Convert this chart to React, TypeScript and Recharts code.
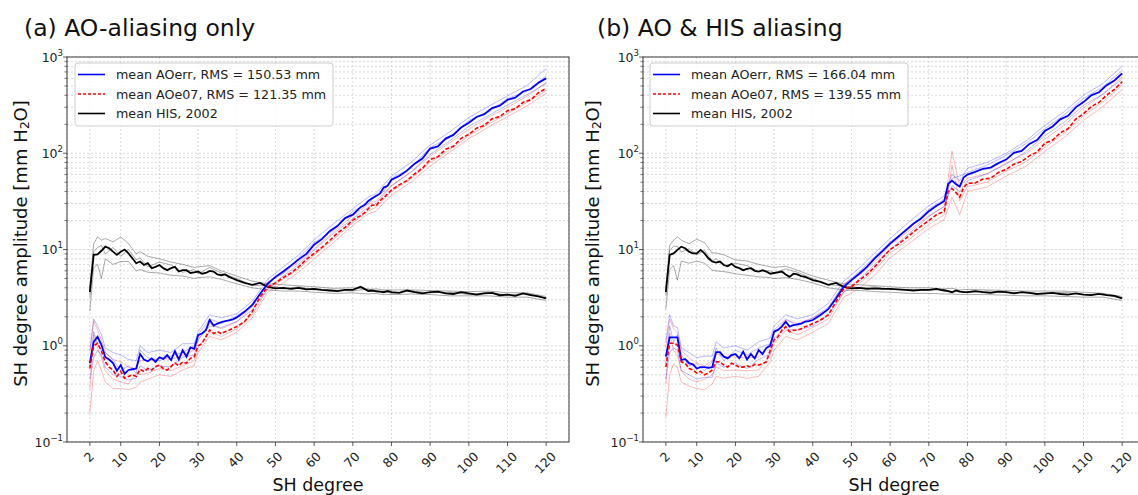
import React from "react";
import { LineChart, Line, XAxis, YAxis, CartesianGrid } from "recharts";

const FONT = "'DejaVu Sans', Verdana, sans-serif";

// SH degrees used for the mean curves
const DEG = [
  2, 3, 4, 5, 6, 7, 8, 9, 10, 11,
  12, 13, 14, 15, 16, 17, 18, 19, 20, 21,
  22, 23, 24, 25, 26, 27, 28, 29, 30, 31,
  32, 33, 34, 35, 36, 37, 38, 39, 40,
  42, 44, 46, 48, 50, 52, 54, 56, 58, 60,
  62, 64, 66, 68, 70, 72,
  73, 74, 75, 76, 77, 78, 79, 80,
  82, 84, 86, 88, 90, 92, 94, 96, 98, 100,
  102, 104, 106, 108, 110, 112, 114, 116, 118, 120,
];

// (a) AO-aliasing only
const AOERR_A = [
  0.66, 1.1, 1.24, 1.02, 0.76, 0.72, 0.66, 0.55, 0.63, 0.51,
  0.56, 0.57, 0.58, 0.82, 0.72, 0.69, 0.74, 0.68, 0.76, 0.73,
  0.8, 0.71, 0.88, 0.72, 0.9, 0.77, 0.96, 0.93, 1.29, 1.34,
  1.45, 1.85, 1.62, 1.7, 1.76, 1.8, 1.84, 1.88, 1.97,
  2.25, 2.65, 3.45, 4.4, 5.2, 5.9, 6.8, 7.9, 9.0, 11.2,
  12.8, 15.5, 17.5, 21.2, 23.0, 27.5,
  29.0, 32.0, 34.0, 36.0, 38.0, 44.0, 46.0, 53.0,
  58.0, 66.0, 78.0, 88.0, 112, 118, 142, 155, 185, 208,
  238, 255, 295, 312, 360, 378, 438, 465, 540, 600,
];
const AOE07_A = [
  0.58, 1.0, 1.06, 0.88, 0.68, 0.6, 0.56, 0.48, 0.54, 0.46,
  0.48, 0.5, 0.48, 0.57, 0.54, 0.58, 0.56, 0.61, 0.63, 0.58,
  0.56, 0.61, 0.66, 0.62, 0.68, 0.66, 0.74, 0.77, 1.0, 1.05,
  1.24, 1.46, 1.34, 1.4, 1.34, 1.4, 1.45, 1.52, 1.58,
  1.78, 2.26, 3.2, 4.1, 4.5, 5.1, 5.7, 6.6, 7.9, 9.1,
  10.5, 12.4, 14.8, 17.0, 20.2, 22.5,
  24.0, 26.5, 29.0, 28.5, 32.0, 34.5, 38.0, 41.5,
  47.0, 52.0, 61.0, 70.0, 86.0, 92.0, 110, 118, 143, 157,
  182, 195, 228, 240, 276, 290, 338, 360, 425, 473,
];
const HIS_A = [
  3.6, 8.8, 8.9, 9.7, 10.7, 10.3, 9.5, 8.8, 9.5, 10.0,
  9.1, 8.1, 7.2, 7.5, 6.9, 7.2, 6.4, 6.6, 6.9, 6.4,
  6.1, 6.4, 6.6, 5.9, 6.1, 6.1, 5.7, 5.8, 5.9, 5.6,
  5.7, 6.0, 5.9, 5.5, 5.4, 5.5, 5.2, 5.0, 4.8,
  4.5, 4.3, 4.5, 4.1, 3.95, 4.0, 3.9, 4.0, 3.85, 3.9,
  3.8, 3.75, 3.7, 3.8, 3.8, 4.1,
  3.9, 3.7, 3.75, 3.7, 3.65, 3.6, 3.7, 3.6,
  3.55, 3.75, 3.6, 3.5, 3.6, 3.65, 3.5, 3.45, 3.6, 3.5,
  3.4, 3.5, 3.55, 3.35, 3.4, 3.3, 3.5, 3.35, 3.25, 3.1,
];

// (b) AO & HIS aliasing
const AOERR_B = [
  0.77, 1.22, 1.22, 1.22, 0.71, 0.73, 0.66, 0.64, 0.58, 0.6,
  0.6, 0.59, 0.6, 0.86, 0.86, 0.77, 0.74, 0.8, 0.82, 0.74,
  0.87, 0.72, 0.82, 0.74, 0.9, 0.82, 0.95, 1.0, 1.4, 1.46,
  1.58, 1.78, 1.58, 1.64, 1.67, 1.7, 1.78, 1.8, 1.85,
  2.09, 2.4, 3.1, 4.1, 4.8, 5.6, 6.6, 8.1, 9.6, 11.5,
  13.5, 15.8, 18.5, 21.0, 25.0, 28.5,
  30.0, 32.0, 48.0, 52.0, 48.0, 45.0, 56.0, 60.0,
  64.0, 69.0, 71.0, 79.0, 86.0, 101, 106, 125, 137, 170,
  190, 225, 245, 300, 340, 400, 430, 510, 570, 677,
];
const AOE07_B = [
  0.6, 1.06, 1.06, 1.02, 0.68, 0.66, 0.58, 0.56, 0.52, 0.54,
  0.5, 0.52, 0.56, 0.68, 0.68, 0.63, 0.6, 0.66, 0.63, 0.6,
  0.6, 0.62, 0.6, 0.64, 0.63, 0.65, 0.68, 0.9, 1.15, 1.24,
  1.45, 1.58, 1.4, 1.45, 1.45, 1.5, 1.58, 1.62, 1.7,
  1.85, 2.09, 2.87, 3.9, 4.1, 4.8, 5.5, 6.6, 8.2, 10.0,
  11.3, 13.0, 15.2, 17.5, 20.0, 23.0,
  24.0, 25.0, 40.0, 43.0, 39.0, 35.0, 44.0, 48.7,
  49.0, 54.0, 55.0, 63.0, 68.0, 77.0, 82.0, 94.0, 103, 127,
  137, 163, 180, 226, 258, 305, 338, 402, 460, 553,
];
const HIS_B = [
  3.6, 8.8, 9.1, 9.9, 10.7, 10.3, 9.5, 9.1, 9.1, 9.9,
  9.1, 8.1, 7.5, 7.3, 7.5, 6.9, 6.7, 7.1, 6.6, 6.4,
  6.1, 6.3, 6.4, 6.0, 5.9, 6.1, 5.9, 5.6, 5.7, 5.8,
  5.9, 5.5, 5.2, 5.6, 5.5, 5.3, 5.2, 5.0, 4.8,
  4.6, 4.3, 4.5, 4.1, 3.95, 4.0, 3.9, 3.95, 3.9, 3.9,
  3.85, 3.8, 3.75, 3.8, 3.8, 3.9,
  3.8, 3.75, 3.7, 3.6, 3.75, 3.65, 3.6, 3.6,
  3.7, 3.6, 3.55, 3.65, 3.6, 3.5, 3.6, 3.55, 3.45, 3.5,
  3.55, 3.45, 3.4, 3.5, 3.4, 3.35, 3.45, 3.35, 3.3, 3.1,
];

// individual ensemble members (thin lines), coarser sampling
const MEMBER_DEG = [
  2, 3, 4, 5, 6, 8, 10, 12, 14, 15, 17, 20, 23, 26, 29, 30, 33, 36, 40,
  44, 48, 52, 56, 60, 65, 70, 74, 76, 78, 80, 85, 90, 95, 100, 105, 110, 115, 120,
];

const BLUE_MEMBERS_A = [
  [0.9, 1.9, 1.6, 1.3, 0.95, 0.85, 0.8, 0.72, 0.7, 1.0, 0.85, 0.9, 0.85, 1.05, 1.05, 1.4, 2.1, 1.95, 2.15, 2.9, 4.9, 6.6, 8.8, 12.6, 18.5, 26.5, 35, 38, 47, 58, 80, 122, 166, 235, 305, 395, 505, 760],
  [0.45, 0.75, 0.9, 0.8, 0.6, 0.5, 0.48, 0.44, 0.46, 0.62, 0.55, 0.62, 0.6, 0.76, 0.8, 1.15, 1.6, 1.55, 1.78, 2.35, 3.9, 5.3, 7.0, 9.9, 14.6, 21, 27.5, 30, 37, 46, 64, 97, 134, 190, 245, 318, 405, 530],
  [0.6, 1.4, 1.05, 0.9, 0.85, 0.72, 0.55, 0.62, 0.52, 0.9, 0.75, 0.7, 0.78, 0.85, 1.0, 1.3, 1.9, 1.7, 2.05, 2.6, 4.6, 5.6, 8.2, 11.8, 15.8, 25, 30, 36, 40, 55, 70, 115, 145, 220, 265, 370, 440, 640],
];
const RED_MEMBERS_A = [
  [0.85, 1.8, 1.45, 1.15, 0.85, 0.72, 0.68, 0.6, 0.58, 0.7, 0.7, 0.74, 0.72, 0.8, 0.9, 1.15, 1.7, 1.5, 1.78, 2.55, 4.6, 5.7, 7.4, 10.2, 15.2, 22.5, 29.5, 31.5, 38.5, 46, 63, 93, 128, 178, 235, 300, 390, 540],
  [0.2, 0.55, 0.7, 0.55, 0.42, 0.36, 0.36, 0.35, 0.37, 0.42, 0.45, 0.5, 0.48, 0.56, 0.62, 0.85, 1.25, 1.15, 1.38, 1.95, 3.6, 4.5, 5.8, 8.0, 11.8, 17.8, 23.5, 25, 30.5, 36.5, 50, 74, 102, 142, 186, 240, 310, 420],
  [0.35, 1.3, 0.95, 0.75, 0.55, 0.45, 0.42, 0.4, 0.52, 0.5, 0.52, 0.58, 0.55, 0.62, 0.7, 0.95, 1.4, 1.25, 1.5, 2.1, 3.9, 4.9, 6.3, 8.7, 12.8, 19, 25, 27.5, 33, 40, 54, 80, 108, 152, 200, 258, 335, 450],
];
const GRAY_MEMBERS_A = [
  [4.0, 11.5, 13.5, 12.5, 13.0, 12.0, 13.5, 11.5, 9.0, 9.5, 8.5, 8.0, 7.4, 7.0, 6.5, 6.6, 6.8, 6.0, 5.3, 4.7, 4.4, 4.3, 4.2, 4.1, 3.95, 4.0, 3.85, 3.9, 3.8, 3.8, 3.8, 3.75, 3.7, 3.65, 3.7, 3.55, 3.55, 3.25],
  [2.3, 6.5, 7.0, 5.0, 8.0, 7.0, 7.5, 7.5, 6.0, 6.2, 5.8, 5.7, 5.4, 5.3, 5.0, 5.1, 5.2, 4.9, 4.4, 4.0, 3.8, 3.7, 3.7, 3.6, 3.5, 3.55, 3.45, 3.5, 3.4, 3.4, 3.45, 3.4, 3.3, 3.3, 3.3, 3.2, 3.2, 2.95],
  [3.2, 9.5, 10.5, 11.0, 9.0, 10.5, 8.5, 10.0, 7.8, 8.2, 6.6, 7.4, 6.9, 5.8, 6.2, 5.6, 6.5, 5.7, 5.0, 4.2, 4.3, 3.9, 4.1, 3.8, 3.8, 3.7, 3.9, 3.6, 3.7, 3.5, 3.7, 3.55, 3.6, 3.4, 3.6, 3.35, 3.5, 3.1],
];
const BLUE_MEMBERS_B = [
  [1.1, 2.1, 1.6, 1.55, 0.95, 0.85, 0.75, 0.78, 0.78, 1.1, 0.95, 1.0, 0.9, 1.1, 1.2, 1.6, 2.1, 1.9, 2.1, 2.75, 4.7, 6.4, 9.2, 13.0, 19.5, 28.5, 36, 60, 52, 70, 80, 100, 133, 195, 270, 400, 530, 800],
  [0.45, 0.85, 0.95, 0.9, 0.55, 0.5, 0.45, 0.47, 0.47, 0.66, 0.6, 0.66, 0.58, 0.72, 0.82, 1.2, 1.5, 1.45, 1.6, 2.1, 3.6, 4.9, 7.0, 10.0, 14.8, 22, 28, 46, 40, 52, 61, 77, 103, 152, 210, 315, 410, 590],
  [0.65, 1.6, 1.1, 1.3, 0.8, 0.62, 0.65, 0.55, 0.68, 0.95, 0.7, 0.9, 0.8, 0.95, 1.05, 1.45, 1.9, 1.6, 1.95, 2.5, 4.3, 5.9, 8.4, 12.0, 16.5, 26.5, 33, 55, 58, 63, 75, 95, 125, 180, 250, 370, 490, 720],
];
const RED_MEMBERS_B = [
  [0.95, 1.9, 1.5, 1.35, 0.9, 0.75, 0.66, 0.62, 0.7, 0.82, 0.78, 0.76, 0.75, 0.76, 1.05, 1.35, 1.85, 1.7, 1.95, 2.4, 4.4, 5.4, 7.4, 11.2, 15.8, 22.5, 28, 105, 45, 55, 61, 79, 99, 140, 195, 295, 410, 620],
  [0.18, 0.5, 0.65, 0.6, 0.42, 0.38, 0.36, 0.35, 0.4, 0.48, 0.46, 0.48, 0.46, 0.48, 0.68, 0.9, 1.25, 1.15, 1.38, 1.7, 3.2, 3.95, 5.4, 8.2, 11.6, 16.5, 20.5, 35, 23, 40, 44.5, 58, 73, 104, 146, 220, 305, 460],
  [0.4, 1.35, 0.9, 0.8, 0.55, 0.45, 0.42, 0.45, 0.5, 0.6, 0.55, 0.56, 0.55, 0.56, 0.8, 1.05, 1.45, 1.3, 1.55, 1.9, 3.6, 4.4, 6.1, 9.2, 12.8, 18.2, 23, 75, 32, 45, 50, 65, 81, 115, 162, 245, 340, 510],
];
const GRAY_MEMBERS_B = [
  [4.0, 11.0, 12.5, 13.5, 12.5, 11.5, 12.8, 11.8, 9.2, 9.2, 8.8, 7.8, 7.6, 7.0, 6.6, 6.5, 6.7, 6.1, 5.3, 4.8, 4.4, 4.3, 4.2, 4.1, 4.0, 4.0, 3.9, 3.95, 3.8, 3.85, 3.8, 3.75, 3.7, 3.7, 3.7, 3.6, 3.5, 3.25],
  [2.4, 6.2, 6.8, 4.8, 7.6, 7.2, 7.6, 7.2, 6.1, 6.0, 5.9, 5.6, 5.4, 5.2, 5.1, 5.0, 5.1, 4.9, 4.5, 4.0, 3.8, 3.75, 3.65, 3.6, 3.5, 3.5, 3.45, 3.45, 3.4, 3.4, 3.4, 3.35, 3.3, 3.3, 3.25, 3.2, 3.2, 2.95],
  [3.3, 9.8, 10.8, 10.8, 9.4, 10.2, 8.8, 9.8, 7.6, 8.0, 6.8, 7.2, 6.8, 5.9, 6.0, 5.7, 6.3, 5.8, 5.0, 4.3, 4.2, 4.0, 4.1, 3.85, 3.8, 3.75, 3.85, 3.6, 3.7, 3.55, 3.7, 3.6, 3.55, 3.45, 3.6, 3.4, 3.45, 3.1],
];

const X_TICKS = [2, 10, 20, 30, 40, 50, 60, 70, 80, 90, 100, 110, 120];
const Y_DECADES = [0.1, 1, 10, 100, 1000];
const Y_EXPONENTS = ["\u22121", "0", "1", "2", "3"];
const Y_MINOR = [2, 3, 4, 5, 6, 7, 8, 9];
const Y_TICKS: number[] = [];
Y_DECADES.forEach((d, i) => {
  Y_TICKS.push(d);
  if (i < Y_DECADES.length - 1) Y_MINOR.forEach((m) => Y_TICKS.push(d * m));
});

// layout inside one panel
const PW = 580;
const PH = 495;
const PLOT_L = 67;
const PLOT_R = 569;
const PLOT_T = 57;
const PLOT_B = 442;

function XTick(props: any) {
  const { x, y, payload } = props;
  const label = String(payload.value);
  const w = label.length * 7.9;
  const cy = y + 9 + ((w + 9) * 0.7071) / 2;
  return (
    <g>
      <line x1={x} y1={y} x2={x} y2={y + 4} stroke="#333" strokeWidth={0.8} />
      <text
        transform={`translate(${x - 1},${cy}) rotate(-45)`}
        textAnchor="middle"
        dominantBaseline="central"
        fontSize={12.5}
        fill="#222"
        fontFamily={FONT}
      >
        {label}
      </text>
    </g>
  );
}

function YTick(props: any) {
  const { x, y, payload } = props;
  const idx = Y_DECADES.indexOf(payload.value);
  if (idx < 0) {
    return <line x1={x - 2.5} y1={y} x2={x} y2={y} stroke="#333" strokeWidth={0.7} />;
  }
  return (
    <g>
      <line x1={x - 4} y1={y} x2={x} y2={y} stroke="#333" strokeWidth={0.8} />
      <text x={x - 4} y={y + 4.5} textAnchor="end" fontSize={12.5} fill="#222" fontFamily={FONT}>
        10
        <tspan dy={-6} fontSize={8.5}>
          {Y_EXPONENTS[idx]}
        </tspan>
      </text>
    </g>
  );
}

const toRows = (xs: number[], ys: number[]) => xs.map((deg, i) => ({ deg, v: ys[i] }));

type PanelProps = {
  left: number;
  title: string;
  titleX: number;
  yLabelX: number;
  legendX: number;
  rmsErr: string;
  rmsE07: string;
  aoerr: number[];
  aoe07: number[];
  his: number[];
  blue: number[][];
  red: number[][];
  gray: number[][];
};

function Panel(p: PanelProps) {
  const rows = DEG.map((deg, i) => ({ deg, aoerr: p.aoerr[i], aoe07: p.aoe07[i], his: p.his[i] }));
  const thin = (arr: number[][], color: string, tag: string, op: number) =>
    arr.map((m, i) => (
      <Line
        key={tag + i}
        data={toRows(MEMBER_DEG, m)}
        dataKey="v"
        type="linear"
        stroke={color}
        strokeOpacity={op}
        strokeWidth={0.8}
        dot={false}
        activeDot={false}
        isAnimationActive={false}
      />
    ));
  const legendRows = [
    { label: `mean AOerr, RMS = ${p.rmsErr} mm`, color: "#0000ff", dash: undefined },
    { label: `mean AOe07, RMS = ${p.rmsE07} mm`, color: "#ff0000", dash: "3 2" },
    { label: "mean HIS, 2002", color: "#000000", dash: undefined },
  ];
  const lx = p.legendX;
  const midX = (PLOT_L + PLOT_R) / 2;
  const midY = (PLOT_T + PLOT_B) / 2;
  return (
    <div style={{ position: "absolute", left: p.left, top: 0, width: PW, height: PH }}>
      <LineChart
        width={PW}
        height={PH}
        data={rows}
        margin={{ top: PLOT_T, right: PW - PLOT_R, bottom: PH - PLOT_B - 30, left: PLOT_L - 40 }}
      >
        <CartesianGrid stroke="#cfcfcf" strokeDasharray="2 2" strokeWidth={0.8} />
        <XAxis
          type="number"
          dataKey="deg"
          domain={[-3.9, 125.9]}
          ticks={X_TICKS}
          interval={0}
          allowDataOverflow
          height={30}
          tickSize={0}
          tickMargin={0}
          tickLine={false}
          axisLine={false}
          tick={<XTick />}
        />
        <YAxis
          type="number"
          scale="log"
          domain={[0.1, 1000]}
          ticks={Y_TICKS}
          interval={0}
          allowDataOverflow
          width={40}
          tickSize={0}
          tickMargin={0}
          tickLine={false}
          axisLine={false}
          tick={<YTick />}
        />
        {thin(p.gray, "#000000", "g", 0.42)}
        {thin(p.red, "#ff0000", "r", 0.35)}
        {thin(p.blue, "#0000ff", "b", 0.35)}
        <Line dataKey="his" type="linear" stroke="#000000" strokeWidth={1.8} dot={false} activeDot={false} isAnimationActive={false} />
        <Line dataKey="aoerr" type="linear" stroke="#0000ff" strokeWidth={1.8} dot={false} activeDot={false} isAnimationActive={false} />
        <Line dataKey="aoe07" type="linear" stroke="#ff0000" strokeWidth={1.6} strokeDasharray="4 2" dot={false} activeDot={false} isAnimationActive={false} />
      </LineChart>
      <svg
        width={PW}
        height={PH}
        style={{ position: "absolute", left: 0, top: 0, pointerEvents: "none" }}
        fontFamily={FONT}
      >
        <rect x={PLOT_L} y={PLOT_T} width={PLOT_R - PLOT_L} height={PLOT_B - PLOT_T} fill="none" stroke="#3a3a3a" strokeWidth={1} />
        <text x={p.titleX} y={36} fontSize={23.5} fill="#111">
          {p.title}
        </text>
        <text x={midX} y={491} fontSize={17.5} textAnchor="middle" fill="#111">
          SH degree
        </text>
        <text transform={`translate(${p.yLabelX},${midY - 6}) rotate(-90)`} textAnchor="middle" dominantBaseline="central" fontSize={18} fill="#111">
          SH degree amplitude [mm H
          <tspan fontSize={12.5} dy={4}>2</tspan>
          <tspan dy={-4}>O]</tspan>
        </text>
        <rect x={lx} y={63} width={258} height={63} rx={3} fill="#ffffff" fillOpacity={0.85} stroke="#cccccc" strokeWidth={1} />
        {legendRows.map((r, i) => {
          const ry = 74.5 + i * 19.5;
          return (
            <g key={r.label}>
              <line x1={lx + 3} y1={ry} x2={lx + 30} y2={ry} stroke={r.color} strokeWidth={1.6} strokeDasharray={r.dash} />
              <text x={lx + 41} y={ry + 4.5} fontSize={12.7} fill="#222">
                {r.label}
              </text>
            </g>
          );
        })}
      </svg>
    </div>
  );
}

export default function App() {
  return (
    <div
      style={{
        position: "absolute",
        left: 0,
        top: 0,
        width: 1138,
        height: 495,
        overflow: "hidden",
        background: "#ffffff",
        fontFamily: FONT,
      }}
    >
      <Panel
        left={0}
        title="(a) AO-aliasing only"
        titleX={24}
        yLabelX={20}
        legendX={75}
        rmsErr="150.53"
        rmsE07="121.35"
        aoerr={AOERR_A}
        aoe07={AOE07_A}
        his={HIS_A}
        blue={BLUE_MEMBERS_A}
        red={RED_MEMBERS_A}
        gray={GRAY_MEMBERS_A}
      />
      <Panel
        left={576}
        title="(b) AO & HIS aliasing"
        titleX={21}
        yLabelX={16}
        legendX={74}
        rmsErr="166.04"
        rmsE07="139.55"
        aoerr={AOERR_B}
        aoe07={AOE07_B}
        his={HIS_B}
        blue={BLUE_MEMBERS_B}
        red={RED_MEMBERS_B}
        gray={GRAY_MEMBERS_B}
      />
    </div>
  );
}
